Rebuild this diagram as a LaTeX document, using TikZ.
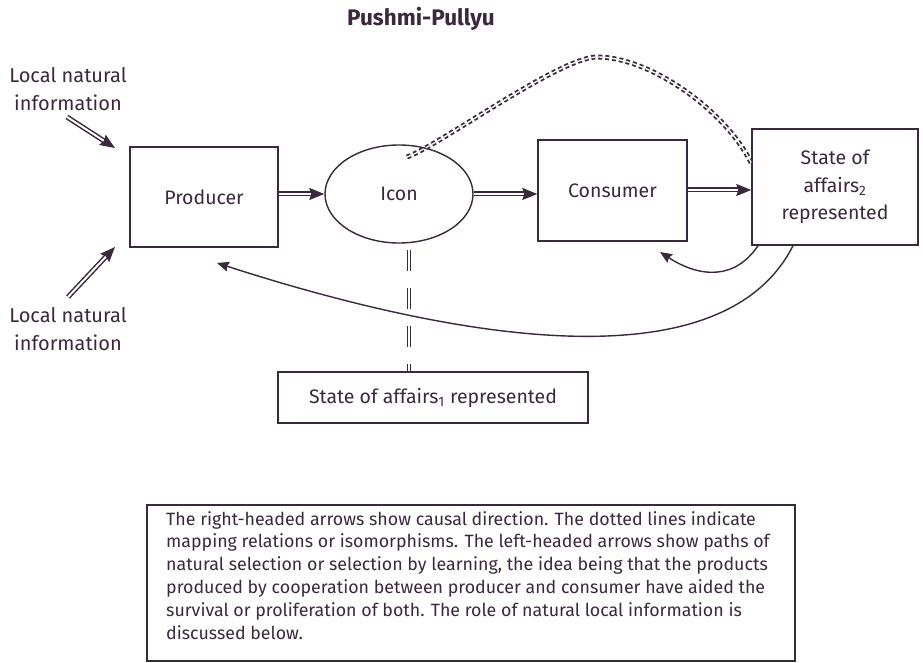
\documentclass[tikz,border=0pt]{standalone}
\usepackage{fontspec}
\setmainfont{Fira Sans}
\usetikzlibrary{arrows.meta,shapes.geometric}
\definecolor{ink}{RGB}{58,40,60}
\tikzset{
  lbl/.style={font=\fontsize{19.5}{27.5}\selectfont, text=ink, align=center},
  boxnode/.style={draw=ink, line width=1.4pt, rectangle, inner sep=0pt, lbl},
  dblarrow/.style={draw=ink, double=white, double distance=2pt, line width=1.5pt,
     -{Stealth[length=15pt,width=12pt,inset=2pt]}},
  selarrow/.style={draw=ink, line width=1.4pt, -{Stealth[length=12pt,width=10pt,inset=1.5pt]}},
  mapline/.style={draw=ink, double=white, double distance=1.3pt, line width=1.8pt, dash pattern=on 4pt off 3pt},
  vmapline/.style={draw=ink, double=white, double distance=1.3pt, line width=1.3pt, dash pattern=on 21pt off 17pt},
}
\begin{document}
\begin{tikzpicture}[x=1pt,y=-1pt]
\useasboundingbox (0,0) rectangle (923,663);
% title
\node[lbl, font=\fontsize{22.5}{26}\bfseries\selectfont] (title) at (421,19) {Pushmi-Pullyu};
% side labels
\node[lbl, font=\fontsize{20}{28}\selectfont] (lab1) at (68,89) {Local natural\\information};
\node[lbl, font=\fontsize{20}{28}\selectfont] (lab2) at (68,329) {Local natural\\information};
% boxes
\node[boxnode, minimum width=148pt, minimum height=100pt] (prod) at (204,197) {Producer};
\node[draw=ink, line width=1.4pt, ellipse, minimum width=148pt, minimum height=98pt, inner sep=0pt, lbl] (icon) at (399,194) {Icon};
\node[boxnode, minimum width=149pt, minimum height=101pt] (cons) at (612.5,190.5) {Consumer};
\node[boxnode, minimum width=166pt, minimum height=116pt] (st2) at (835,187) {\raisebox{-3pt}{\parbox{150pt}{\centering State of\\affairs\textsubscript{2}\\represented}}};
\node[boxnode, minimum width=310pt, minimum height=51pt] (st1) at (433,397.5) {State of affairs\textsubscript{1} represented};
% caption
\node[draw=ink, line width=1.2pt, rectangle, minimum width=648pt, minimum height=156pt, inner sep=0pt] (capbox) at (471,583) {};
\node[anchor=north west, text=ink, align=left, inner sep=0pt, font=\fontsize{17.8}{22.8}\selectfont] (captext) at (166,511)
 {The right-headed arrows show causal direction. The dotted lines indicate\\
  mapping relations or isomorphisms. The left-headed arrows show paths of\\
  natural selection or selection by learning, the idea being that the products\\
  produced by cooperation between producer and consumer have aided the\\
  survival or proliferation of both. The role of natural local information is\\
  discussed below.};
% coordinates
\coordinate (in1s) at (67,117);
\coordinate (in1e) at (115,148);
\coordinate (in2s) at (68,297);
\coordinate (in2e) at (115,247);
\coordinate (dstart) at (407,157);
\coordinate (vtop) at (409,250);
\coordinate (tipA) at (660,252);
\coordinate (tipB) at (217,263);
\coordinate (row3) at (0,190);
% incoming information arrows
\draw[dblarrow] (in1s) -- (in1e);
\draw[dblarrow] (in2s) -- (in2e);
% causal arrows
\draw[dblarrow] (prod.east |- icon.west) -- (icon.west);
\draw[dblarrow] (icon.east) -- (icon.east -| cons.west);
\draw[dblarrow] (cons.east |- row3) -- (st2.west |- row3);
% mapping lines
\draw[mapline] (dstart) .. controls (440,145) and (560,57) .. (597,57)
   .. controls (650,57) and (725,110) .. ([yshift=24pt]st2.west);
\draw[vmapline] (vtop) -- (vtop |- st1.north);
% selection arrows
\draw[selarrow] ([xshift=-77pt]st2.south) .. controls (735,280) and (700,278) .. (tipA);
\draw[selarrow] ([xshift=-42pt]st2.south) .. controls (720,390) and (440,335) .. (tipB);
\end{tikzpicture}
\end{document}
